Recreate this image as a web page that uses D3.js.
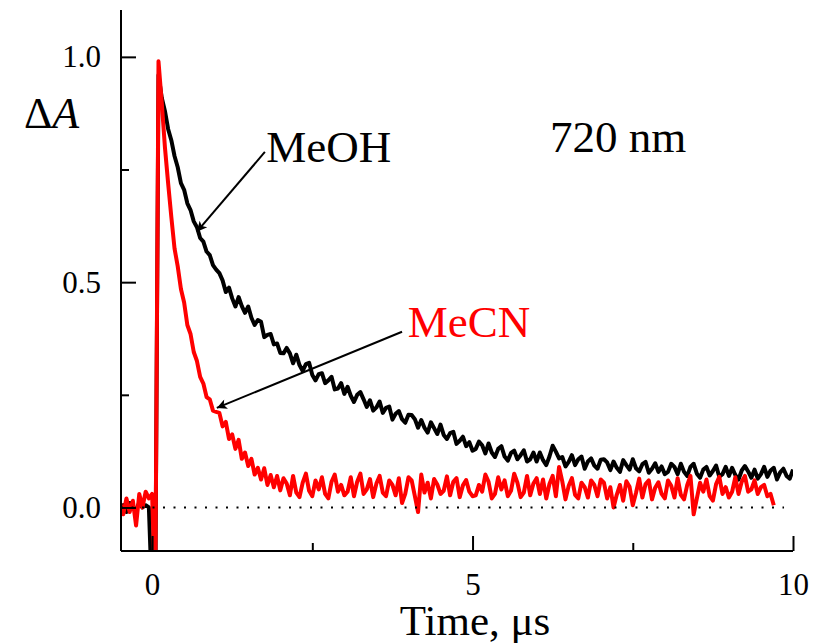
<!DOCTYPE html>
<html lang="en">
<head>
    <meta charset="UTF-8">
    <title>Transient absorption decay, 720 nm</title>
    <script src="https://d3js.org/d3.v7.min.js"></script>
    <style type="text/css">
        body {
            margin: 0;
            background: #ffffff;
        }
        svg, svg text {
            display: block;
            font-family: "Liberation Serif", "DejaVu Serif", serif;
        }
    </style>
</head>
<body>
    <div id="chart"></div>

    <script type="text/javascript">
        // Sampling of both traces (microseconds)
        const tStart = -0.5;
        const tStep = 0.05;

        // MeOH trace, dA at t = -0.5, -0.45, ... 10.0
        const meohValues = [
            0.0, 0.005, -0.01, 0.01, 0.0, -0.005, 0.01, 0.0, 0.005, 0.0,
            -0.2, -0.2, 0.96,
            0.91, 0.88, 0.84, 0.815, 0.78, 0.755, 0.72, 0.705, 0.675, 0.66, 0.635, 0.622, 0.598, 0.59, 0.568, 0.56, 0.538, 0.528,
            0.52, 0.504, 0.478, 0.488, 0.464, 0.446, 0.467, 0.447, 0.432, 0.446, 0.421, 0.405, 0.416, 0.412, 0.378, 0.383, 0.385, 0.362, 0.364, 0.343,
            0.342, 0.354, 0.342, 0.32, 0.339, 0.316, 0.303, 0.318, 0.321, 0.294, 0.282, 0.296, 0.298, 0.276, 0.282, 0.29, 0.262, 0.264, 0.276, 0.252,
            0.268, 0.248, 0.234, 0.25, 0.256, 0.24, 0.223, 0.238, 0.215, 0.222, 0.235, 0.21, 0.221, 0.224, 0.195, 0.208, 0.214, 0.196, 0.188, 0.206,
            0.205, 0.196, 0.177, 0.194, 0.177, 0.166, 0.189, 0.176, 0.163, 0.184, 0.161, 0.152, 0.165, 0.168, 0.141, 0.148, 0.157, 0.136, 0.145, 0.126,
            0.13, 0.146, 0.138, 0.12, 0.142, 0.122, 0.112, 0.13, 0.136, 0.113, 0.104, 0.121, 0.126, 0.107, 0.116, 0.127, 0.102, 0.107, 0.122, 0.102,
            0.122, 0.105, 0.094, 0.113, 0.137, 0.124, 0.109, 0.112, 0.091, 0.101, 0.116, 0.094, 0.107, 0.113, 0.086, 0.102, 0.109, 0.093, 0.086, 0.106,
            0.107, 0.1, 0.083, 0.102, 0.088, 0.079, 0.105, 0.094, 0.084, 0.107, 0.087, 0.08, 0.096, 0.101, 0.077, 0.086, 0.098, 0.079, 0.091, 0.074,
            0.079, 0.097, 0.09, 0.074, 0.097, 0.079, 0.07, 0.09, 0.097, 0.075, 0.066, 0.084, 0.09, 0.071, 0.081, 0.093, 0.068, 0.074, 0.09, 0.07,
            0.088, 0.072, 0.062, 0.082, 0.092, 0.08, 0.066, 0.084, 0.064, 0.074, 0.09, 0.068, 0.082, 0.088, 0.062, 0.078, 0.086, 0.07, 0.064, 0.084
        ];

        // MeCN trace, dA at t = -0.5, -0.45, ... 9.7
        const mecnValues = [
            0.01, -0.015, 0.02, -0.01, 0.015, -0.04, 0.03, 0.0, 0.035, 0.02,
            0.03, -0.2, 0.99,
            0.9, 0.8, 0.72, 0.645, 0.575, 0.535, 0.485, 0.455, 0.405, 0.385, 0.345, 0.325, 0.29, 0.275, 0.245, 0.24, 0.215, 0.212,
            0.21, 0.18, 0.19, 0.152, 0.162, 0.13, 0.15, 0.108, 0.122, 0.092, 0.108, 0.073, 0.088, 0.062, 0.087, 0.05, 0.072, 0.045, 0.07, 0.038,
            0.065, 0.053, 0.027, 0.07, 0.033, 0.023, 0.055, 0.075, 0.037, 0.025, 0.06, 0.04, 0.067, 0.03, 0.02, 0.057, 0.073, 0.035, 0.05, 0.027,
            0.035, 0.067, 0.025, 0.057, 0.075, 0.03, 0.04, 0.063, 0.023, 0.053, 0.07, 0.033, 0.025, 0.06, 0.05, 0.027, 0.065, 0.01, 0.03, 0.067,
            0.06, 0.025, -0.01, 0.073, 0.033, 0.055, 0.02, 0.063, 0.051, 0.03, 0.037, 0.069, 0.027, 0.057, 0.065, 0.023, 0.049, 0.061, 0.035, 0.025,
            0.027, 0.05, 0.035, 0.073, 0.057, 0.02, 0.03, 0.067, 0.04, 0.06, 0.025, 0.037, 0.075, 0.055, 0.023, 0.033, 0.07, 0.027, 0.053, 0.065,
            0.03, 0.062, 0.02, 0.052, 0.07, 0.025, 0.09, 0.058, 0.018, 0.048, 0.065, 0.028, 0.02, 0.055, 0.045, 0.022, 0.06, 0.05, 0.025, 0.062,
            0.055, 0.02, 0.045, 0.0, 0.028, 0.05, 0.015, 0.058, 0.046, 0.005, 0.032, 0.064, 0.022, 0.052, 0.06, 0.018, 0.044, 0.056, 0.03, 0.02,
            0.06, 0.048, 0.022, 0.065, 0.028, 0.018, 0.05, 0.07, -0.015, 0.02, 0.055, 0.035, 0.062, 0.025, 0.015, 0.052, 0.068, 0.03, 0.045, 0.022,
            0.035, 0.067, 0.03, 0.057, 0.07, 0.035, 0.04, 0.06, 0.03, 0.045, 0.05, 0.025, 0.03, 0.005
        ];

        const xMajorTicks = [0, 5, 10];
        const xMinorTicks = [2.5, 7.5];
        const yMajorTicks = [0, 0.5, 1.0];
        const yMinorTicks = [0.25, 0.75];

        // Annotations, in data units (t, dA)
        const labels = [
            {text: 'MeOH', t: 1.78, a: 0.767, color: '#000000'},
            {text: 'MeCN', t: 3.99, a: 0.378, color: '#ff0000'},
            {text: '720 nm', t: 6.21, a: 0.789, color: '#000000'}
        ];
        const arrows = [
            {from: [1.76, 0.789], to: [0.70, 0.612]},
            {from: [3.90, 0.39], to: [1.01, 0.221]}
        ];

        const serif = '"Liberation Serif", "DejaVu Serif", serif';
        const W = 823, H = 643;
        const margin = {top: 10, left: 121, right: 30, bottom: 92};
        const width = W - margin.left - margin.right;   // 672
        const height = H - margin.top - margin.bottom;  // 541

        const svg = d3.select('#chart').append('svg')
            .attr('width', W)
            .attr('height', H)
            .attr('font-family', serif);

        const defs = svg.append('defs');
        defs.append('clipPath').attr('id', 'plot-clip')
            .append('rect')
            .attr('width', width)
            .attr('height', height);
        defs.append('marker')
            .attr('id', 'arrowhead')
            .attr('viewBox', '0 0 10 10')
            .attr('refX', 10)
            .attr('refY', 5)
            .attr('markerUnits', 'userSpaceOnUse')
            .attr('markerWidth', 15)
            .attr('markerHeight', 10)
            .attr('orient', 'auto')
            .append('path')
            .attr('d', 'M0,0 L10,5 L0,10 L2.5,5 Z')
            .attr('fill', '#000');

        const g = svg.append('g')
            .attr('transform', `translate(${margin.left},${margin.top})`);

        const x = d3.scaleLinear().domain([-0.485, 10]).range([0, width]);
        const y = d3.scaleLinear().domain([-0.0966, 1.104]).range([height, 0]);

        const toPoints = vals => vals.map((v, i) => [tStart + i * tStep, v]);

        const line = d3.line()
            .x(d => x(d[0]))
            .y(d => y(d[1]));

        const plot = g.append('g').attr('clip-path', 'url(#plot-clip)');

        plot.append('path')
            .datum(toPoints(meohValues))
            .attr('d', line)
            .attr('fill', 'none')
            .attr('stroke', '#000000')
            .attr('stroke-width', 4)
            .attr('stroke-linejoin', 'round');

        plot.append('path')
            .datum(toPoints(mecnValues))
            .attr('d', line)
            .attr('fill', 'none')
            .attr('stroke', '#ff0000')
            .attr('stroke-width', 4)
            .attr('stroke-linejoin', 'round');

        // zero line
        plot.append('line')
            .attr('x1', x(-0.485))
            .attr('x2', x(9.86))
            .attr('y1', y(0))
            .attr('y2', y(0))
            .attr('stroke', '#000')
            .attr('stroke-width', 2)
            .attr('stroke-dasharray', '2,8.5');

        // Axes (ticks point inward)
        g.append('g')
            .attr('transform', `translate(0,${height})`)
            .call(d3.axisBottom(x).tickValues(xMajorTicks).tickSize(-15).tickPadding(22).tickFormat(d3.format('d')));
        g.append('g')
            .attr('transform', `translate(0,${height})`)
            .call(d3.axisBottom(x).tickValues(xMinorTicks).tickSize(-8).tickFormat(''));

        g.append('g')
            .call(d3.axisLeft(y).tickValues(yMajorTicks).tickSize(-15).tickPadding(20).tickFormat(d3.format('.1f')));
        g.append('g')
            .call(d3.axisLeft(y).tickValues(yMinorTicks).tickSize(-8).tickFormat(''));

        g.selectAll('.domain').remove();
        g.selectAll('g').filter(function() { return this.hasAttribute('font-family'); })
            .attr('font-family', serif)
            .attr('font-size', 31);

        g.append('line')
            .attr('x1', 0).attr('x2', width)
            .attr('y1', height).attr('y2', height)
            .attr('stroke', '#000').attr('stroke-width', 2);
        g.append('line')
            .attr('x1', 0).attr('x2', 0)
            .attr('y1', 0).attr('y2', height)
            .attr('stroke', '#000').attr('stroke-width', 2);

        g.selectAll('.tick line').attr('stroke', '#000').attr('stroke-width', 2);
        g.selectAll('.tick text')
            .attr('fill', '#000')
            .style('font-family', serif)
            .style('font-size', '31px');

        // Axis titles
        svg.append('text')
            .attr('x', 475)
            .attr('y', 635)
            .attr('text-anchor', 'middle')
            .style('font-size', '43px')
            .text('Time, μs');

        const yTitle = svg.append('text')
            .attr('x', 24)
            .attr('y', 128)
            .style('font-size', '44px');
        yTitle.append('tspan').text('Δ');
        yTitle.append('tspan').style('font-style', 'italic').text('A');

        // Annotations
        g.selectAll('.arrow')
            .data(arrows)
            .enter().append('line')
            .attr('class', 'arrow')
            .attr('x1', d => x(d.from[0]))
            .attr('y1', d => y(d.from[1]))
            .attr('x2', d => x(d.to[0]))
            .attr('y2', d => y(d.to[1]))
            .attr('stroke', '#000')
            .attr('stroke-width', 2)
            .attr('marker-end', 'url(#arrowhead)');

        g.selectAll('.label')
            .data(labels)
            .enter().append('text')
            .attr('class', 'label')
            .attr('x', d => x(d.t))
            .attr('y', d => y(d.a))
            .attr('fill', d => d.color)
            .style('font-size', '45px')
            .text(d => d.text);
    </script>
</body>
</html>
